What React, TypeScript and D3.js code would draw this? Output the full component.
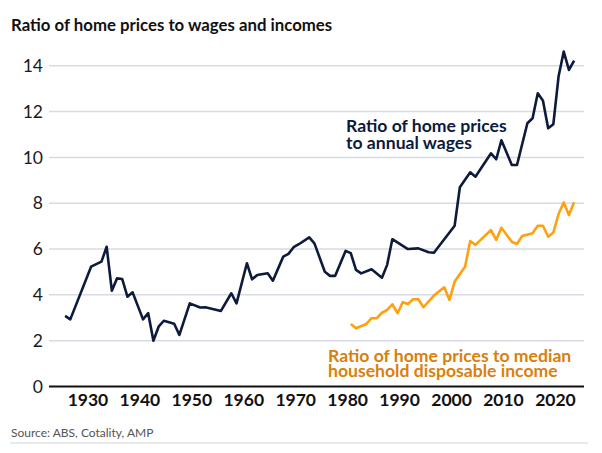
import React from 'react';
import * as d3 from 'd3';

// Ratio of home prices to annual wages
const wageYears = [
  1925, 1926, 1930, 1932, 1933, 1934, 1935, 1936, 1937, 1938, 1940, 1941, 1942, 1943, 1944, 1946, 1947,
  1949, 1951, 1952, 1955, 1957, 1958, 1960, 1961, 1962, 1964, 1965, 1967, 1968, 1969, 1970, 1972, 1973,
  1975, 1976, 1977, 1979, 1980, 1981, 1982, 1984, 1986, 1987, 1988, 1991, 1993, 1995, 1996, 2000, 2001,
  2003, 2004, 2007, 2008, 2009, 2011, 2012, 2014, 2015, 2016, 2017, 2018, 2019, 2020, 2021, 2022, 2023,
];
const wageRatio = [
  3.08, 2.93, 5.23, 5.45, 6.1, 4.18, 4.72, 4.69, 3.92, 4.11, 2.93, 3.2, 2.0, 2.61, 2.87, 2.74, 2.25,
  3.63, 3.45, 3.46, 3.3, 4.07, 3.63, 5.38, 4.68, 4.87, 4.94, 4.62, 5.67, 5.79, 6.08, 6.21, 6.51, 6.25,
  5.01, 4.83, 4.83, 5.92, 5.82, 5.09, 4.94, 5.12, 4.75, 5.31, 6.43, 6.0, 6.03, 5.86, 5.84, 7.02, 8.7,
  9.35, 9.16, 10.18, 9.92, 10.75, 9.67, 9.67, 11.49, 11.71, 12.8, 12.47, 11.27, 11.45, 13.53, 14.62, 13.82, 14.23,
];

// Ratio of home prices to median household disposable income
const incomeYears = [
  1980, 1981, 1983, 1984, 1985, 1986, 1987, 1988, 1989, 1990, 1991, 1992, 1993, 1994, 1996, 1998, 1999,
  2000, 2002, 2003, 2004, 2007, 2008, 2009, 2011, 2012, 2013, 2015, 2016, 2017, 2018, 2019, 2020, 2021,
  2022, 2023,
];
const incomeRatio = [
  2.73, 2.54, 2.73, 2.98, 2.98, 3.22, 3.34, 3.59, 3.2, 3.68, 3.6, 3.81, 3.81, 3.46, 3.97, 4.33, 3.78,
  4.58, 5.23, 6.35, 6.18, 6.83, 6.4, 6.93, 6.32, 6.22, 6.57, 6.69, 7.02, 7.02, 6.54, 6.72, 7.53, 8.03,
  7.49, 8.04,
];

const yTicks = [0, 2, 4, 6, 8, 10, 12, 14];
const xTicks = [1930, 1940, 1950, 1960, 1970, 1980, 1990, 2000, 2010, 2020];

const W = 602;
const H = 453;
const FONT = 'Lato, "Open Sans", sans-serif';
const NAVY = '#0d1a3c';
const AMBER = '#ffa00f';
const AMBER_TEXT = '#d9800a';

export default function App() {
  const x = d3.scaleLinear().domain([1922.5, 2025.5]).range([49, 584]);
  const y = d3.scaleLinear().domain([0, 14]).range([386.5, 65.8]);

  // points sit in the middle of each (financial) year
  const line = d3
    .line<[number, number]>()
    .x((d) => x(d[0] + 0.6))
    .y((d) => y(d[1]));

  const wagePts = wageYears.map((yr, i) => [yr, wageRatio[i]] as [number, number]);
  const incomePts = incomeYears.map((yr, i) => [yr, incomeRatio[i]] as [number, number]);

  return (
    <div style={{ position: 'absolute', left: 0, top: 0 }}>
      <svg width={W} height={H} style={{ display: 'block', background: '#fff' }} fontFamily={FONT}>
        <text x={11} y={30.5} fontSize={16.8} fontWeight={700} fill="#111">
          Ratio of home prices to wages and incomes
        </text>

        {/* grid + y labels */}
        {yTicks.map((t) => (
          <g key={t}>
            {t > 0 && (
              <line x1={x.range()[0]} x2={x.range()[1]} y1={y(t)} y2={y(t)} stroke="#d8dbe3" strokeWidth={1.5} />
            )}
            <text x={43} y={y(t)} dy="0.35em" textAnchor="end" fontSize={17.5} fill="#1a1a1a">
              {t}
            </text>
          </g>
        ))}

        <path d={line(incomePts) ?? ''} fill="none" stroke={AMBER} strokeWidth={2.6} strokeLinejoin="round" />
        <path d={line(wagePts) ?? ''} fill="none" stroke={NAVY} strokeWidth={2.6} strokeLinejoin="round" />

        {/* baseline */}
        <line x1={x.range()[0]} x2={x.range()[1]} y1={y(0)} y2={y(0)} stroke="#111" strokeWidth={2} />

        {xTicks.map((t) => (
          <text key={t} x={x(t)} y={406} textAnchor="middle" fontSize={17.5} fontWeight={700} fill="#111">
            {t}
          </text>
        ))}

        <text x={346} y={132} fontSize={17.6} fontWeight={700} fill={NAVY}>
          <tspan x={346}>Ratio of home prices</tspan>
          <tspan x={346} dy={16.8}>to annual wages</tspan>
        </text>

        <text x={328} y={361.5} fontSize={17.6} fontWeight={700} fill={AMBER_TEXT}>
          <tspan x={328}>Ratio of home prices to median</tspan>
          <tspan x={328} dy={15.4}>household disposable income</tspan>
        </text>

        <text x={11} y={437} fontSize={12} fill="#555">
          Source: ABS, Cotality, AMP
        </text>
        <line x1={10} x2={588} y1={443} y2={443} stroke="#e2e3ea" strokeWidth={1.5} />
      </svg>
    </div>
  );
}
